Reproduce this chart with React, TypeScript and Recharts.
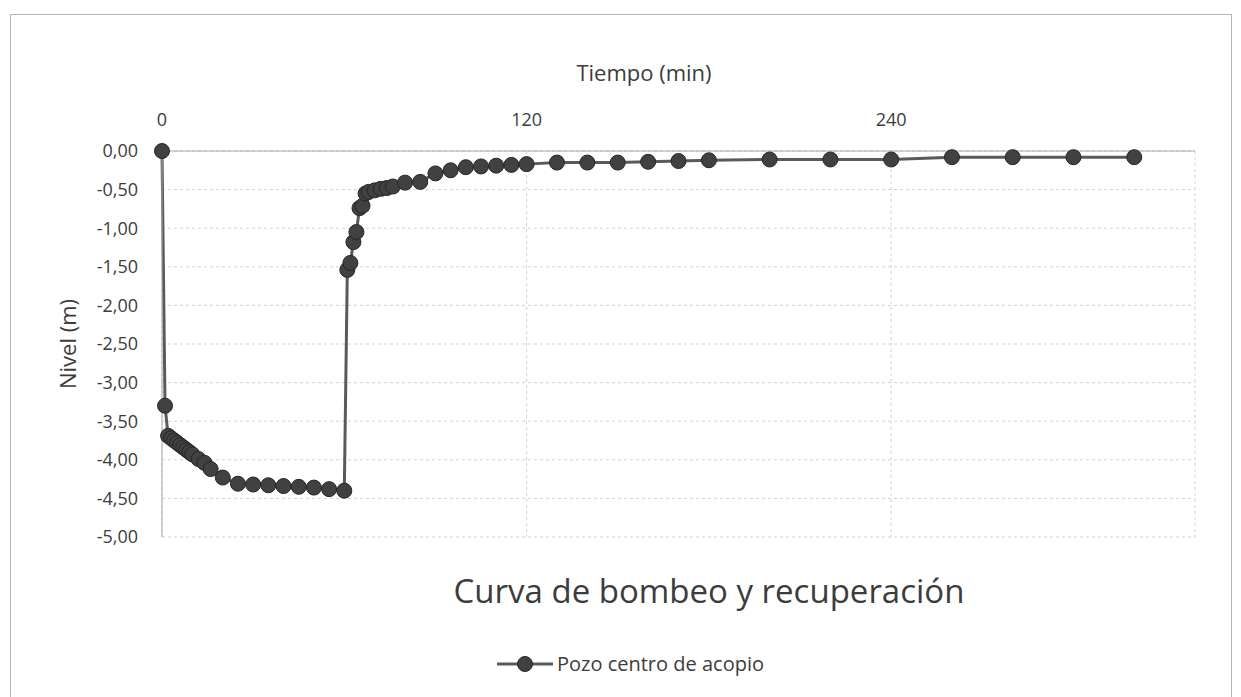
import React from 'react';
import { LineChart, Line, XAxis, YAxis, CartesianGrid, Legend } from 'recharts';

const tiempo = [0, 1, 2, 3, 4, 5, 6, 7, 8, 9, 10, 12, 14, 16, 20, 25, 30, 35, 40, 45, 50, 55, 60,
  61, 62, 63, 64, 65, 66, 67, 68, 70, 72, 74, 76, 80, 85, 90, 95, 100, 105, 110, 115, 120,
  130, 140, 150, 160, 170, 180, 200, 220, 240, 260, 280, 300, 320];
const nivel = [0, -3.30, -3.69, -3.72, -3.75, -3.78, -3.81, -3.84, -3.87, -3.90, -3.93, -3.99, -4.04, -4.12, -4.23, -4.31, -4.32, -4.33, -4.34, -4.35, -4.36, -4.38, -4.40,
  -1.54, -1.45, -1.18, -1.05, -0.74, -0.71, -0.55, -0.53, -0.51, -0.49, -0.48, -0.46, -0.41, -0.40, -0.29, -0.25, -0.21, -0.20, -0.19, -0.18, -0.17,
  -0.15, -0.15, -0.15, -0.14, -0.13, -0.12, -0.11, -0.11, -0.11, -0.08, -0.08, -0.08, -0.08];
const xTicks = [0, 120, 240];
const yTicks = [0, -0.5, -1, -1.5, -2, -2.5, -3, -3.5, -4, -4.5, -5];
const seriesName = 'Pozo centro de acopio';
const chartTitle = 'Curva de bombeo y recuperación';
const xTitle = 'Tiempo (min)';
const yTitle = 'Nivel (m)';

const data = tiempo.map((t, i) => ({ t, v: nivel[i] }));

const FONT = '"Open Sans", "Noto Sans", sans-serif';
const TEXT = '#3c3c3c';

const fmtY = (v: number) => (v === 0 ? '0,00' : v.toFixed(2).replace('.', ','));

const LegendContent = () => (
  <div style={{ display: 'flex', alignItems: 'center', fontFamily: FONT, fontSize: 20, color: TEXT, whiteSpace: 'nowrap' }}>
    <svg width={56} height={20} style={{ marginRight: 4 }}>
      <line x1={0} y1={10} x2={56} y2={10} stroke="#5a5a5a" strokeWidth={3} />
      <circle cx={28} cy={10} r={7.5} fill="#414141" stroke="#262626" strokeWidth={1} />
    </svg>
    <span>{seriesName}</span>
  </div>
);

export default function App() {
  return (
    <div style={{ position: 'absolute', left: 0, top: 0, width: 1241, height: 697, background: '#fff', overflow: 'hidden' }}>
      <div style={{ position: 'absolute', left: 10, top: 14, width: 1222, height: 700, border: '1px solid #b5b5b5', boxSizing: 'border-box' }} />
      <div style={{ position: 'absolute', left: 0, top: 0 }}>
        <LineChart width={1241} height={697} data={data} margin={{ top: 111, right: 46, bottom: 160, left: 102 }}>
          <CartesianGrid stroke="#d2d2d2" strokeDasharray="3 3" />
          <XAxis
            dataKey="t"
            type="number"
            orientation="top"
            domain={[0, 340]}
            ticks={xTicks}
            height={40}
            tickLine={false}
            tickSize={0}
            tickMargin={25}
            axisLine={{ stroke: '#a8a8a8' }}
            tick={{ fill: TEXT, fontSize: 18, fontFamily: FONT }}
          />
          <YAxis
            type="number"
            domain={[-5, 0]}
            ticks={yTicks}
            width={60}
            tickLine={false}
            tickSize={0}
            tickMargin={24}
            tickFormatter={fmtY}
            axisLine={{ stroke: '#a8a8a8' }}
            tick={{ fill: TEXT, fontSize: 18, fontFamily: FONT }}
          />
          <Line
            type="linear"
            dataKey="v"
            name={seriesName}
            stroke="#5a5a5a"
            strokeWidth={3}
            dot={{ r: 7.5, fill: '#414141', stroke: '#262626', strokeWidth: 1 }}
            activeDot={false}
            isAnimationActive={false}
          />
          <Legend
            layout="horizontal"
            align="center"
            verticalAlign="middle"
            content={<LegendContent />}
            wrapperStyle={{ position: 'absolute', left: 497, top: 650, width: 320, height: 26 }}
          />
        </LineChart>
      </div>
      <svg width={1241} height={697} style={{ position: 'absolute', left: 0, top: 0, pointerEvents: 'none' }}>
        <text x={644} y={81} textAnchor="middle" fontFamily={FONT} fontSize={22} fill={TEXT}>{xTitle}</text>
        <text x={76} y={344} textAnchor="middle" fontFamily={FONT} fontSize={22} fill={TEXT} transform="rotate(-90 76 344)">{yTitle}</text>
        <text x={709} y={603} textAnchor="middle" fontFamily={FONT} fontSize={33} fill={TEXT}>{chartTitle}</text>
      </svg>
    </div>
  );
}
